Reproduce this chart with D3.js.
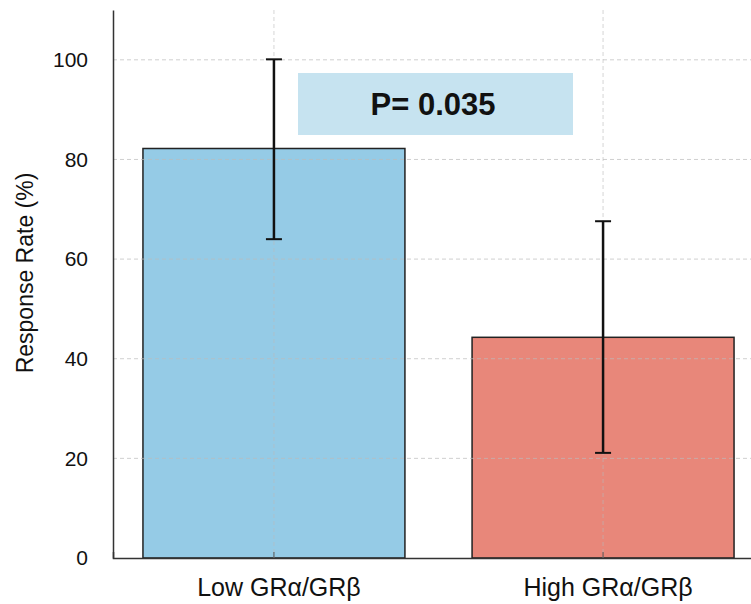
<!DOCTYPE html>
<html>
<head>
<meta charset="utf-8">
<script src="https://cdn.jsdelivr.net/npm/d3@7"></script>
<style>
  body { margin: 0; background: #fff; }
  text { font-family: "Liberation Sans", Arial, sans-serif; }
</style>
</head>
<body>
<div id="chart"></div>
<script>
// data
var groups = ["Low GRα/GRβ", "High GRα/GRβ"];
var responseRate = [82.2, 44.3];
var errLow = [64.0, 21.1];
var errHigh = [100.1, 67.6];
var yTicks = [0, 20, 40, 60, 80, 100];
var barColors = ["#95cbe6", "#e8877a"];
var pLabel = "P= 0.035";

var svgWidth = 751;
var svgHeight = 604;

var margin = { top: 10, right: -13, bottom: 46, left: 113 };
var width = svgWidth - margin.left - margin.right;
var height = svgHeight - margin.top - margin.bottom;

var svg = d3.select("#chart")
  .append("svg")
  .attr("width", svgWidth)
  .attr("height", svgHeight);

var chartGroup = svg.append("g")
  .attr("transform", `translate(${margin.left}, ${margin.top})`);

var xScale = d3.scaleBand()
  .domain(groups)
  .range([0, width])
  .paddingInner(0.204)
  .paddingOuter(0.091);

var yScale = d3.scaleLinear()
  .domain([0, 110])
  .range([height, 0]);

// bars
chartGroup.selectAll(".bar")
  .data(groups)
  .enter()
  .append("rect")
  .attr("class", "bar")
  .attr("x", d => xScale(d))
  .attr("width", xScale.bandwidth())
  .attr("y", (d, i) => yScale(responseRate[i]))
  .attr("height", (d, i) => height - yScale(responseRate[i]))
  .attr("fill", (d, i) => barColors[i])
  .attr("stroke", "#222")
  .attr("stroke-width", 1.5);

// grid lines (drawn over the bars, light)
chartGroup.selectAll(".hgrid")
  .data(yTicks.slice(1))
  .enter()
  .append("line")
  .attr("x1", 0)
  .attr("x2", width)
  .attr("y1", d => yScale(d))
  .attr("y2", d => yScale(d))
  .attr("stroke", "#bbb")
  .attr("stroke-opacity", 0.7)
  .attr("stroke-dasharray", "4,3")
  .attr("stroke-width", 1);

chartGroup.selectAll(".vgrid")
  .data(groups)
  .enter()
  .append("line")
  .attr("x1", d => xScale(d) + xScale.bandwidth() / 2)
  .attr("x2", d => xScale(d) + xScale.bandwidth() / 2)
  .attr("y1", 0)
  .attr("y2", height)
  .attr("stroke", "#bbb")
  .attr("stroke-opacity", 0.6)
  .attr("stroke-dasharray", "4,3")
  .attr("stroke-width", 1);

// error bars
var errGroup = chartGroup.selectAll(".err")
  .data(groups)
  .enter()
  .append("g")
  .attr("transform", d => `translate(${xScale(d) + xScale.bandwidth() / 2}, 0)`);

errGroup.append("line")
  .attr("y1", (d, i) => yScale(errLow[i]))
  .attr("y2", (d, i) => yScale(errHigh[i]))
  .attr("stroke", "#111")
  .attr("stroke-width", 2.5);

errGroup.append("line")
  .attr("x1", -8).attr("x2", 8)
  .attr("y1", (d, i) => yScale(errHigh[i]))
  .attr("y2", (d, i) => yScale(errHigh[i]))
  .attr("stroke", "#111")
  .attr("stroke-width", 2);

errGroup.append("line")
  .attr("x1", -8).attr("x2", 8)
  .attr("y1", (d, i) => yScale(errLow[i]))
  .attr("y2", (d, i) => yScale(errLow[i]))
  .attr("stroke", "#111")
  .attr("stroke-width", 2);

// axes
var leftAxis = d3.axisLeft(yScale).tickValues(yTicks).tickSize(0).tickPadding(25);
var bottomAxis = d3.axisBottom(xScale).tickSize(-6).tickPadding(20);

var yAxis = chartGroup.append("g").call(leftAxis);
yAxis.select(".domain").attr("stroke", "#333").attr("stroke-width", 1.5);
yAxis.selectAll("text").attr("font-size", 21).attr("fill", "#111");

var xAxis = chartGroup.append("g")
  .attr("transform", `translate(0, ${height})`)
  .call(bottomAxis);
xAxis.select(".domain").attr("stroke", "#333").attr("stroke-width", 1.5);
xAxis.selectAll(".tick line").attr("stroke", "#555");
xAxis.selectAll("text").attr("font-size", 25).attr("fill", "#111").attr("dx", 5);

// y axis label
chartGroup.append("text")
  .attr("transform", "rotate(-90)")
  .attr("x", 0 - 263)
  .attr("y", -80)
  .attr("text-anchor", "middle")
  .attr("font-size", 23)
  .attr("fill", "#111")
  .text("Response Rate (%)");

// p-value annotation
chartGroup.append("rect")
  .attr("x", 298 - margin.left)
  .attr("y", 73 - margin.top)
  .attr("width", 275)
  .attr("height", 62)
  .attr("fill", "#c6e3f0");

chartGroup.append("text")
  .attr("x", 433 - margin.left)
  .attr("y", 115 - margin.top)
  .attr("text-anchor", "middle")
  .attr("font-size", 31)
  .attr("font-weight", "bold")
  .attr("fill", "#111")
  .text(pLabel);
</script>
</body>
</html>
